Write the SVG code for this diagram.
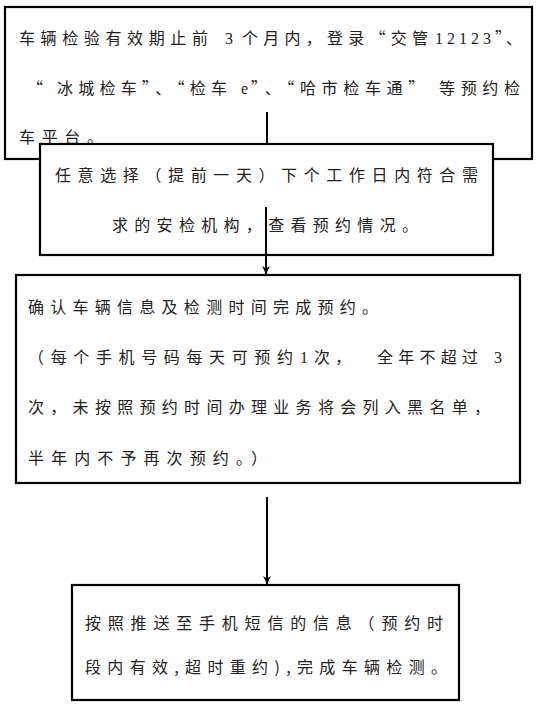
<svg xmlns="http://www.w3.org/2000/svg" width="541" height="710" viewBox="0 0 541 710">
<style>
.box{fill:#ffffff;stroke:#000000;stroke-width:2.2}
.t{font-family:"Noto Sans CJK SC","Noto Sans CJK JP",sans-serif;font-size:16px;fill:#222222}
.lat{font-family:"Liberation Serif","Noto Sans CJK SC",serif;font-size:16px;fill:#222222}
.conn{stroke:#000000;stroke-width:2;fill:none}
</style>
<defs>
<marker id="arr" markerWidth="10" markerHeight="10" refX="8" refY="5" orient="auto" markerUnits="userSpaceOnUse">
<path d="M0,1 L8,5 L0,9 L2.5,5 z" fill="#000000"/>
</marker>
</defs>
<rect width="541" height="710" fill="#ffffff"/>
<g id="node1">
<rect class="box" x="5" y="7" width="527" height="152"/>
<text class="t" x="19" y="44" textLength="189" lengthAdjust="spacing">车辆检验有效期止前</text>
<text class="lat" x="225" y="44">3</text>
<text class="t" x="242" y="44" textLength="186" lengthAdjust="spacing">个月内，登录“交管</text>
<text class="lat" x="435" y="44" textLength="56" lengthAdjust="spacing">12123</text>
<text class="t" x="495" y="44" textLength="27" lengthAdjust="spacing">”、</text>
<text class="t" x="27" y="94" textLength="200" lengthAdjust="spacing">“ 冰城检车”、“检车</text>
<text class="lat" x="241" y="94">e</text>
<text class="t" x="251" y="94" textLength="269" lengthAdjust="spacing">”、“哈市检车通” 等预约检</text>
<text class="t" x="19" y="143" textLength="84" lengthAdjust="spacing">车平台。</text>
</g>
<g id="node2">
<rect class="box" x="40" y="144" width="453" height="111"/>
<text class="t" x="55" y="181" textLength="423" lengthAdjust="spacing">任意选择（提前一天）下个工作日内符合需</text>
<text class="t" x="112" y="231" textLength="306" lengthAdjust="spacing">求的安检机构，查看预约情况。</text>
</g>
<g id="node3">
<rect class="box" x="16" y="275" width="504" height="208"/>
<text class="t" x="28" y="313" textLength="350" lengthAdjust="spacing">确认车辆信息及检测时间完成预约。</text>
<text class="t" x="28" y="363" textLength="265" lengthAdjust="spacing">（每个手机号码每天可预约</text>
<text class="lat" x="300" y="363">1</text>
<text class="t" x="314" y="363" textLength="37" lengthAdjust="spacing">次，</text>
<text class="t" x="377" y="363" textLength="101" lengthAdjust="spacing">全年不超过</text>
<text class="lat" x="494" y="363">3</text>
<text class="t" x="28" y="413" textLength="462" lengthAdjust="spacing">次，未按照预约时间办理业务将会列入黑名单，</text>
<text class="t" x="28" y="464" textLength="239" lengthAdjust="spacing">半年内不予再次预约。）</text>
</g>
<g id="node4">
<rect class="box" x="72" y="585" width="387" height="115"/>
<text class="t" x="85" y="629" textLength="358" lengthAdjust="spacing">按照推送至手机短信的信息（预约时</text>
<text class="t" x="85" y="673" textLength="362" lengthAdjust="spacing">段内有效,超时重约),完成车辆检测。</text>
</g>
<g id="connectors">
<line class="conn" x1="267" y1="112" x2="267" y2="144"/>
<line class="conn" x1="266" y1="207" x2="266" y2="274" marker-end="url(#arr)"/>
<line class="conn" x1="267" y1="497" x2="267" y2="584" marker-end="url(#arr)"/>
</g>
</svg>
